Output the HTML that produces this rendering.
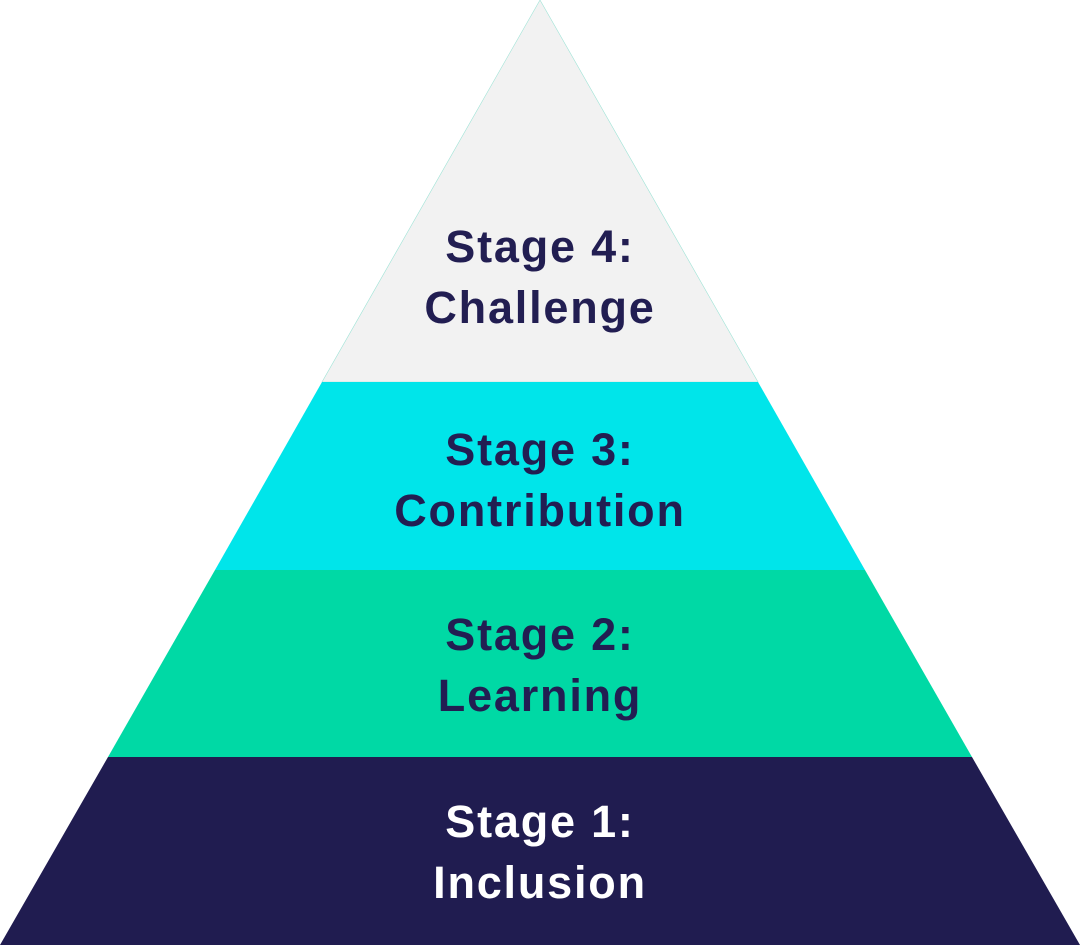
<!DOCTYPE html>
<html><head><style>
html,body{margin:0;padding:0;background:#fff;}
svg{display:block}
text{font-family:"Liberation Sans",sans-serif;font-weight:bold;font-size:45px;letter-spacing:1.8px;text-anchor:middle;fill:#221e52}
</style></head><body>
<svg width="1080" height="950" viewBox="0 0 1080 950">
<polygon points="540,0 758,382 322,382" fill="#f2f2f2" stroke="#9fe3d6" stroke-width="0.6"/>
<polygon points="322,382 758,382 865,570 215,570" fill="#00e5ea"/>
<polygon points="215,570 865,570 972,757 108,757" fill="#00d9a5"/>
<polygon points="108,757 972,757 1080,945 0,945" fill="#201c50"/>
<text x="540" y="262">Stage 4:</text>
<text x="540" y="323">Challenge</text>
<text x="540" y="465">Stage 3:</text>
<text x="540" y="526">Contribution</text>
<text x="540" y="650">Stage 2:</text>
<text x="540" y="711">Learning</text>
<text x="540" y="837" style="fill:#fff">Stage 1:</text>
<text x="540" y="898" style="fill:#fff">Inclusion</text>
</svg>
</body></html>
